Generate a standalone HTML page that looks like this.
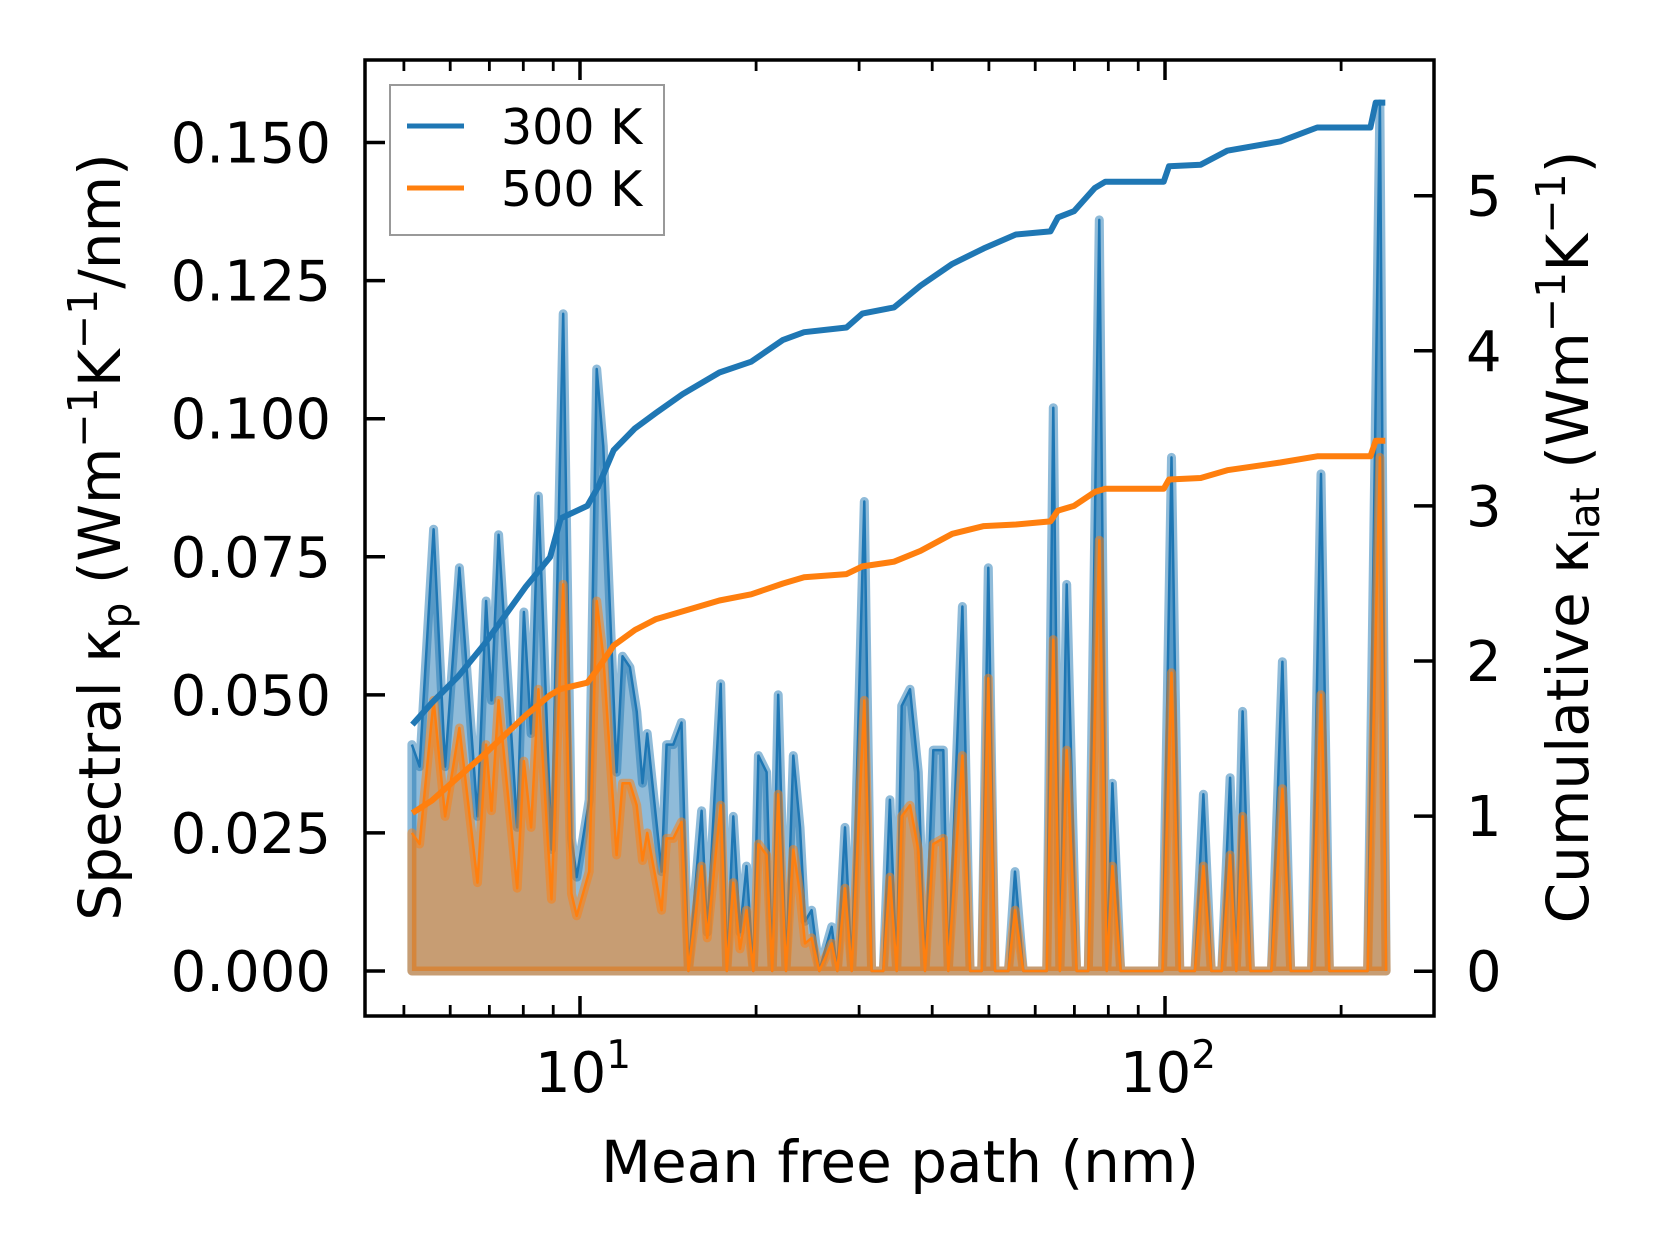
<!DOCTYPE html>
<html><head><meta charset="utf-8">
<style>
html,body{margin:0;padding:0;background:#fff;}
svg{display:block;font-family:"DejaVu Sans","Liberation Sans",sans-serif;}
</style></head>
<body>
<svg id="chart" width="1660" height="1254" viewBox="0 0 1660 1254" xmlns="http://www.w3.org/2000/svg">
<rect x="0" y="0" width="1660" height="1254" fill="#fff"/>
<g id="plot"></g>
</svg>
<script>
// ---- data ----
const mfp = [5.16,5.32,5.62,5.88,6.22,6.68,6.91,7.06,7.26,7.81,8.02,8.25,8.49,8.94,9.36,9.67,9.87,10.37,10.68,10.96,11.55,11.82,12.17,12.50,12.79,13.03,13.79,14.06,14.44,14.91,15.32,16.14,16.50,17.40,17.82,18.28,18.77,19.26,19.78,20.18,20.84,21.31,21.82,22.50,23.15,23.77,24.24,24.88,25.65,26.93,27.53,28.38,29.14,30.62,31.51,32.99,33.87,34.78,35.47,36.65,37.87,38.88,40.18,41.79,42.62,45.04,46.43,48.60,49.89,51.22,53.98,55.41,57.25,62.76,64.42,66.13,67.91,70.62,73.94,77.2,79.5,81.3,84.0,99.0,102.6,106,112.5,116.3,120,125,129.2,132.4,135.7,140,152,158.7,164,178,184.8,191,222,233,238.7];
const spec300 = [.041,.037,.080,.037,.073,.028,.067,.049,.079,.026,.065,.043,.086,.022,.119,.024,.017,.031,.109,.095,.036,.057,.055,.047,.034,.043,.018,.041,.041,.045,0,.029,.007,.052,0,.028,.007,.019,0,.039,.036,0,.050,0,.039,.026,.009,.011,0,.008,0,.026,0,.085,0,0,.031,0,.048,.051,.036,0,.040,.040,0,.066,0,0,.073,0,0,.018,0,0,.102,0,.070,0,0,.136,0,.034,0,0,.093,0,0,.032,0,0,.035,0,.047,0,0,.056,0,0,.090,0,0,.157,0];
const spec500 = [.025,.023,.049,.028,.044,.016,.041,.029,.049,.015,.038,.026,.051,.013,.070,.014,.010,.018,.067,.057,.021,.034,.034,.030,.020,.025,.011,.024,.024,.027,0,.019,.006,.030,0,.016,.004,.011,0,.023,.021,0,.032,0,.022,.014,.005,.006,0,.005,0,.015,0,.049,0,0,.017,0,.028,.030,.022,0,.023,.024,0,.039,0,0,.053,0,0,.011,0,0,.060,0,.040,0,0,.078,0,.019,0,0,.054,0,0,.019,0,0,.021,0,.028,0,0,.033,0,0,.050,0,0,.093,0];
const cumMfp = [5.17,5.58,6.19,6.87,8.08,8.89,9.27,10.29,10.73,11.42,12.41,13.49,14.97,17.31,19.62,22.23,24.16,28.55,30.38,34.42,38.2,43.3,49.0,55.6,63.7,65.6,69.9,75.9,79.1,99.5,101.6,115.1,127.8,157.4,182.0,224.4,229.2,238];
const cum300 = [1.59,1.73,1.90,2.11,2.48,2.67,2.92,3.0,3.12,3.36,3.5,3.6,3.72,3.86,3.93,4.07,4.12,4.15,4.24,4.28,4.42,4.56,4.66,4.75,4.77,4.86,4.90,5.05,5.09,5.09,5.19,5.20,5.29,5.35,5.44,5.44,5.60,5.60];
const cum500 = [1.02,1.10,1.25,1.40,1.65,1.78,1.82,1.86,1.95,2.10,2.20,2.27,2.32,2.39,2.43,2.50,2.54,2.56,2.61,2.64,2.71,2.82,2.87,2.88,2.90,2.97,3.00,3.09,3.11,3.11,3.17,3.18,3.23,3.28,3.32,3.32,3.42,3.42];
const leftTicks = [0,0.025,0.05,0.075,0.1,0.125,0.15];
const leftTickLabels = ["0.000","0.025","0.050","0.075","0.100","0.125","0.150"];
const rightTicks = [0,1,2,3,4,5];
const xMajor = [10,100];
const xMajorLabels = ["1","2"];

// ---- axes ----
const L=365, R=1434, T=60, B=1016;
const xLogMin=0.6325, xLogMax=2.4598;
function X(v){return L+(Math.log10(v)-xLogMin)/(xLogMax-xLogMin)*(R-L);}
function YL(v){return 971-v*5523;}
function YR(v){return 971.2-v*155.1;}
const NS="http://www.w3.org/2000/svg";
const g=document.getElementById('plot');
function el(tag,attrs,parent){const e=document.createElementNS(NS,tag);for(const k in attrs)e.setAttribute(k,attrs[k]);(parent||g).appendChild(e);return e;}

const C1="#1f77b4", C2="#ff7f0e";
function spectral(vals,color,name){
  let d="M"+X(mfp[0]).toFixed(1)+","+YL(0).toFixed(1);
  for(let i=0;i<mfp.length;i++) d+=" L"+X(mfp[i]).toFixed(1)+","+YL(vals[i]).toFixed(1);
  d+=" L"+X(mfp[mfp.length-1]).toFixed(1)+","+YL(0).toFixed(1)+" Z";
  const f=el('path',{d:d,fill:color,'fill-opacity':0.5,stroke:color,'stroke-opacity':0.5,'stroke-width':9,'stroke-linejoin':'round'});
  
  
  let p="";
  for(let i=0;i<mfp.length;i++) p+=(i?" L":"M")+X(mfp[i]).toFixed(1)+","+YL(vals[i]).toFixed(1);
  const ln=el('path',{d:p,fill:'none',stroke:color,'stroke-width':2.5,'stroke-linejoin':'round'});
  
  
}
spectral(spec300,C1,'spectral-300k');
spectral(spec500,C2,'spectral-500k');

function cumulative(vals,color,name){
  let p="";
  for(let i=0;i<cumMfp.length;i++) p+=(i?" L":"M")+X(cumMfp[i]).toFixed(1)+","+YR(vals[i]).toFixed(1);
  const ln=el('path',{d:p,fill:'none',stroke:color,'stroke-width':6,'stroke-linejoin':'round'});
  
  
}
cumulative(cum300,C1,'cumulative-300k-line');
cumulative(cum500,C2,'cumulative-500k-line');

// frame
const frame=el('rect',{x:L,y:T,width:R-L,height:B-T,fill:'none',stroke:'#000','stroke-width':3.5});



// left ticks
leftTicks.forEach((v,i)=>{
  const y=YL(v);
  el('line',{x1:L,x2:L+20,y1:y,y2:y,stroke:'#000','stroke-width':3.5});
  const t=el('text',{x:331,y:y+20,'text-anchor':'end','font-size':56,fill:'#000'});
  t.textContent=leftTickLabels[i];
  
  
});
// right ticks
rightTicks.forEach(v=>{
  const y=YR(v);
  el('line',{x1:R-20,x2:R,y1:y,y2:y,stroke:'#000','stroke-width':3.5});
  const t=el('text',{x:1466,y:y+20,'font-size':56,fill:'#000'});
  t.textContent=String(v);
  
  
});
// x ticks (major + minor)
for(let dec=1;dec<=100;dec*=10){
  for(let m=1;m<10;m++){
    const v=m*dec; const x=X(v);
    if(x<L||x>R) continue;
    const major=(m===1);
    const len=major?20:11, w=major?3.5:2.8;
    el('line',{x1:x,x2:x,y1:B,y2:B-len,stroke:'#000','stroke-width':w});
    el('line',{x1:x,x2:x,y1:T,y2:T+len,stroke:'#000','stroke-width':w});
  }
}
xMajor.forEach((v,i)=>{
  const x=X(v);
  const t=el('text',{x:x+3,y:1092,'text-anchor':'middle','font-size':56,fill:'#000'});
  
  
  const a=document.createElementNS(NS,'tspan');a.textContent="10";t.appendChild(a);
  const b=document.createElementNS(NS,'tspan');b.setAttribute('font-size','39');b.setAttribute('dy','-24');b.textContent=xMajorLabels[i];t.appendChild(b);
});
</script>
<script>
(function(){
const svg=document.getElementById('chart');
function add(html){svg.insertAdjacentHTML('beforeend',html);}
add('<text x="900" y="1182" text-anchor="middle" font-size="58">Mean free path (nm)</text>');
add('<text transform="translate(120,537) rotate(-90)" text-anchor="middle" font-size="58">Spectral κ<tspan font-size="41" dy="11">p</tspan><tspan dy="-11"> (Wm</tspan><tspan font-size="41" dy="-23">−1</tspan><tspan dy="23">K</tspan><tspan font-size="41" dy="-23">−1</tspan><tspan dy="23">/nm)</tspan></text>');
add('<text transform="translate(1588,537) rotate(-90)" text-anchor="middle" font-size="58">Cumulative κ<tspan font-size="41" dy="11">lat</tspan><tspan dy="-11"> (Wm</tspan><tspan font-size="41" dy="-23">−1</tspan><tspan dy="23">K</tspan><tspan font-size="41" dy="-23">−1</tspan><tspan dy="23">)</tspan></text>');
add('<g><rect x="390" y="85" width="274" height="150" fill="#fff" fill-opacity="0.8" stroke="#999" stroke-width="2"/>'+
 '<line x1="407" x2="464" y1="126" y2="126" stroke="#1f77b4" stroke-width="5"/>'+
 '<text x="501" y="144" font-size="49">300 K</text>'+
 '<line x1="407" x2="464" y1="188" y2="188" stroke="#ff7f0e" stroke-width="5"/>'+
 '<text x="501" y="206" font-size="49">500 K</text></g>');
})();
</script>
</body></html>
